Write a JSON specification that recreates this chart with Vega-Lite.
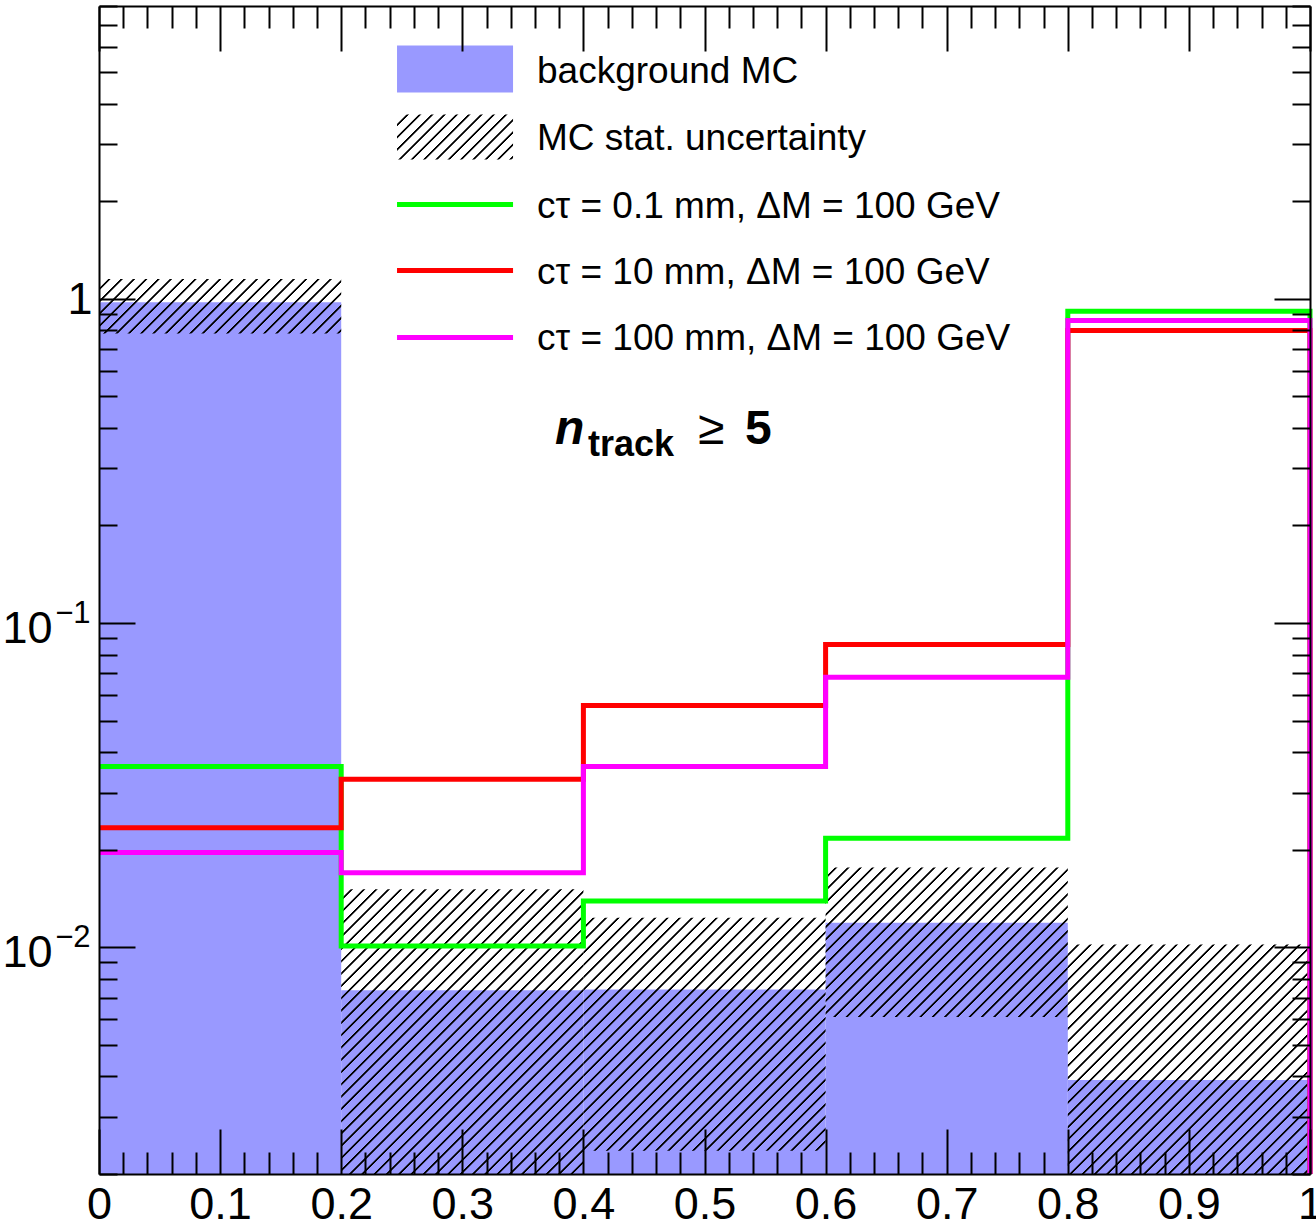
{
  "$schema": "https://vega.github.io/schema/vega-lite/v6.json",
  "width": 1211,
  "height": 1168,
  "autosize": {"type": "none"},
  "padding": {"left": 99, "top": 6, "right": 6, "bottom": 52},
  "background": "white",
  "config": {
    "view": {"stroke": null},
    "text": {"font": "Liberation Sans", "fontSize": 37, "align": "left", "baseline": "alphabetic", "color": "#000"}
  },
  "params": [
    {"name": "hs", "value": [
      {"offset":0.0145,"color":"transparent"},{"offset":0.016,"color":"#000"},{"offset":0.0185,"color":"#000"},{"offset":0.02,"color":"transparent"},
      {"offset":0.0345,"color":"transparent"},{"offset":0.036,"color":"#000"},{"offset":0.0385,"color":"#000"},{"offset":0.04,"color":"transparent"},
      {"offset":0.0545,"color":"transparent"},{"offset":0.056,"color":"#000"},{"offset":0.0585,"color":"#000"},{"offset":0.06,"color":"transparent"},
      {"offset":0.0745,"color":"transparent"},{"offset":0.076,"color":"#000"},{"offset":0.0785,"color":"#000"},{"offset":0.08,"color":"transparent"},
      {"offset":0.0945,"color":"transparent"},{"offset":0.096,"color":"#000"},{"offset":0.0985,"color":"#000"},{"offset":0.1,"color":"transparent"},
      {"offset":0.1145,"color":"transparent"},{"offset":0.116,"color":"#000"},{"offset":0.1185,"color":"#000"},{"offset":0.12,"color":"transparent"},
      {"offset":0.1345,"color":"transparent"},{"offset":0.136,"color":"#000"},{"offset":0.1385,"color":"#000"},{"offset":0.14,"color":"transparent"},
      {"offset":0.1545,"color":"transparent"},{"offset":0.156,"color":"#000"},{"offset":0.1585,"color":"#000"},{"offset":0.16,"color":"transparent"},
      {"offset":0.1745,"color":"transparent"},{"offset":0.176,"color":"#000"},{"offset":0.1785,"color":"#000"},{"offset":0.18,"color":"transparent"},
      {"offset":0.1945,"color":"transparent"},{"offset":0.196,"color":"#000"},{"offset":0.1985,"color":"#000"},{"offset":0.2,"color":"transparent"},
      {"offset":0.2145,"color":"transparent"},{"offset":0.216,"color":"#000"},{"offset":0.2185,"color":"#000"},{"offset":0.22,"color":"transparent"},
      {"offset":0.2345,"color":"transparent"},{"offset":0.236,"color":"#000"},{"offset":0.2385,"color":"#000"},{"offset":0.24,"color":"transparent"},
      {"offset":0.2545,"color":"transparent"},{"offset":0.256,"color":"#000"},{"offset":0.2585,"color":"#000"},{"offset":0.26,"color":"transparent"},
      {"offset":0.2745,"color":"transparent"},{"offset":0.276,"color":"#000"},{"offset":0.2785,"color":"#000"},{"offset":0.28,"color":"transparent"},
      {"offset":0.2945,"color":"transparent"},{"offset":0.296,"color":"#000"},{"offset":0.2985,"color":"#000"},{"offset":0.3,"color":"transparent"},
      {"offset":0.3145,"color":"transparent"},{"offset":0.316,"color":"#000"},{"offset":0.3185,"color":"#000"},{"offset":0.32,"color":"transparent"},
      {"offset":0.3345,"color":"transparent"},{"offset":0.336,"color":"#000"},{"offset":0.3385,"color":"#000"},{"offset":0.34,"color":"transparent"},
      {"offset":0.3545,"color":"transparent"},{"offset":0.356,"color":"#000"},{"offset":0.3585,"color":"#000"},{"offset":0.36,"color":"transparent"},
      {"offset":0.3745,"color":"transparent"},{"offset":0.376,"color":"#000"},{"offset":0.3785,"color":"#000"},{"offset":0.38,"color":"transparent"},
      {"offset":0.3945,"color":"transparent"},{"offset":0.396,"color":"#000"},{"offset":0.3985,"color":"#000"},{"offset":0.4,"color":"transparent"},
      {"offset":0.4145,"color":"transparent"},{"offset":0.416,"color":"#000"},{"offset":0.4185,"color":"#000"},{"offset":0.42,"color":"transparent"},
      {"offset":0.4345,"color":"transparent"},{"offset":0.436,"color":"#000"},{"offset":0.4385,"color":"#000"},{"offset":0.44,"color":"transparent"},
      {"offset":0.4545,"color":"transparent"},{"offset":0.456,"color":"#000"},{"offset":0.4585,"color":"#000"},{"offset":0.46,"color":"transparent"},
      {"offset":0.4745,"color":"transparent"},{"offset":0.476,"color":"#000"},{"offset":0.4785,"color":"#000"},{"offset":0.48,"color":"transparent"},
      {"offset":0.4945,"color":"transparent"},{"offset":0.496,"color":"#000"},{"offset":0.4985,"color":"#000"},{"offset":0.5,"color":"transparent"},
      {"offset":0.5145,"color":"transparent"},{"offset":0.516,"color":"#000"},{"offset":0.5185,"color":"#000"},{"offset":0.52,"color":"transparent"},
      {"offset":0.5345,"color":"transparent"},{"offset":0.536,"color":"#000"},{"offset":0.5385,"color":"#000"},{"offset":0.54,"color":"transparent"},
      {"offset":0.5545,"color":"transparent"},{"offset":0.556,"color":"#000"},{"offset":0.5585,"color":"#000"},{"offset":0.56,"color":"transparent"},
      {"offset":0.5745,"color":"transparent"},{"offset":0.576,"color":"#000"},{"offset":0.5785,"color":"#000"},{"offset":0.58,"color":"transparent"},
      {"offset":0.5945,"color":"transparent"},{"offset":0.596,"color":"#000"},{"offset":0.5985,"color":"#000"},{"offset":0.6,"color":"transparent"},
      {"offset":0.6145,"color":"transparent"},{"offset":0.616,"color":"#000"},{"offset":0.6185,"color":"#000"},{"offset":0.62,"color":"transparent"},
      {"offset":0.6345,"color":"transparent"},{"offset":0.636,"color":"#000"},{"offset":0.6385,"color":"#000"},{"offset":0.64,"color":"transparent"},
      {"offset":0.6545,"color":"transparent"},{"offset":0.656,"color":"#000"},{"offset":0.6585,"color":"#000"},{"offset":0.66,"color":"transparent"},
      {"offset":0.6745,"color":"transparent"},{"offset":0.676,"color":"#000"},{"offset":0.6785,"color":"#000"},{"offset":0.68,"color":"transparent"},
      {"offset":0.6945,"color":"transparent"},{"offset":0.696,"color":"#000"},{"offset":0.6985,"color":"#000"},{"offset":0.7,"color":"transparent"},
      {"offset":0.7145,"color":"transparent"},{"offset":0.716,"color":"#000"},{"offset":0.7185,"color":"#000"},{"offset":0.72,"color":"transparent"},
      {"offset":0.7345,"color":"transparent"},{"offset":0.736,"color":"#000"},{"offset":0.7385,"color":"#000"},{"offset":0.74,"color":"transparent"},
      {"offset":0.7545,"color":"transparent"},{"offset":0.756,"color":"#000"},{"offset":0.7585,"color":"#000"},{"offset":0.76,"color":"transparent"},
      {"offset":0.7745,"color":"transparent"},{"offset":0.776,"color":"#000"},{"offset":0.7785,"color":"#000"},{"offset":0.78,"color":"transparent"},
      {"offset":0.7945,"color":"transparent"},{"offset":0.796,"color":"#000"},{"offset":0.7985,"color":"#000"},{"offset":0.8,"color":"transparent"},
      {"offset":0.8145,"color":"transparent"},{"offset":0.816,"color":"#000"},{"offset":0.8185,"color":"#000"},{"offset":0.82,"color":"transparent"},
      {"offset":0.8345,"color":"transparent"},{"offset":0.836,"color":"#000"},{"offset":0.8385,"color":"#000"},{"offset":0.84,"color":"transparent"},
      {"offset":0.8545,"color":"transparent"},{"offset":0.856,"color":"#000"},{"offset":0.8585,"color":"#000"},{"offset":0.86,"color":"transparent"},
      {"offset":0.8745,"color":"transparent"},{"offset":0.876,"color":"#000"},{"offset":0.8785,"color":"#000"},{"offset":0.88,"color":"transparent"}
    ]}
  ],
  "datasets": {
    "bg": [
      {"x0": 0, "x1": 0.2, "v": 0.976},
      {"x0": 0.2, "x1": 0.4, "v": 0.00737},
      {"x0": 0.4, "x1": 0.6, "v": 0.00742},
      {"x0": 0.6, "x1": 0.8, "v": 0.0119},
      {"x0": 0.8, "x1": 1, "v": 0.0039}
    ],
    "unc": [
      {"x0": 0, "x1": 0.2, "lo": 0.782, "hi": 1.152},
      {"x0": 0.2, "x1": 0.4, "lo": 0.002, "hi": 0.0151},
      {"x0": 0.4, "x1": 0.6, "lo": 0.00236, "hi": 0.01235},
      {"x0": 0.6, "x1": 0.8, "lo": 0.0061, "hi": 0.01764},
      {"x0": 0.8, "x1": 1, "lo": 0.002, "hi": 0.0102}
    ],
    "sig": [
      {"s": "0.1 mm", "x": 0, "y": 0.0361, "o": 1},
      {"s": "0.1 mm", "x": 0.2, "y": 0.0101, "o": 2},
      {"s": "0.1 mm", "x": 0.4, "y": 0.0139, "o": 3},
      {"s": "0.1 mm", "x": 0.6, "y": 0.0217, "o": 4},
      {"s": "0.1 mm", "x": 0.8, "y": 0.916, "o": 5},
      {"s": "0.1 mm", "x": 1, "y": 0.916, "o": 6},
      {"s": "0.1 mm", "x": 1, "y": 0.002, "o": 7},
      {"s": "10 mm", "x": 0, "y": 0.0234, "o": 1},
      {"s": "10 mm", "x": 0.2, "y": 0.033, "o": 2},
      {"s": "10 mm", "x": 0.4, "y": 0.0557, "o": 3},
      {"s": "10 mm", "x": 0.6, "y": 0.0859, "o": 4},
      {"s": "10 mm", "x": 0.8, "y": 0.798, "o": 5},
      {"s": "10 mm", "x": 1, "y": 0.798, "o": 6},
      {"s": "10 mm", "x": 1, "y": 0.002, "o": 7},
      {"s": "100 mm", "x": 0, "y": 0.0196, "o": 1},
      {"s": "100 mm", "x": 0.2, "y": 0.017, "o": 2},
      {"s": "100 mm", "x": 0.4, "y": 0.0361, "o": 3},
      {"s": "100 mm", "x": 0.6, "y": 0.0681, "o": 4},
      {"s": "100 mm", "x": 0.8, "y": 0.857, "o": 5},
      {"s": "100 mm", "x": 1, "y": 0.857, "o": 6},
      {"s": "100 mm", "x": 1, "y": 0.002, "o": 7}
    ]
  },
  "resolve": {"axis": {"x": "independent", "y": "independent"}},
  "layer": [
    {
      "data": {"name": "bg"},
      "mark": {"type": "rect", "fill": "#9999ff"},
      "encoding": {
        "x": {"field": "x0", "type": "quantitative", "scale": {"domain": [0, 1], "nice": false, "zero": false},
          "axis": {"orient": "bottom", "values": [0,0.02,0.04,0.06,0.08,0.1,0.12,0.14,0.16,0.18,0.2,0.22,0.24,0.26,0.28,0.3,0.32,0.34,0.36,0.38,0.4,0.42,0.44,0.46,0.48,0.5,0.52,0.54,0.56,0.58,0.6,0.62,0.64,0.66,0.68,0.7,0.72,0.74,0.76,0.78,0.8,0.82,0.84,0.86,0.88,0.9,0.92,0.94,0.96,0.98,1],
            "tickSize": {"condition": {"test": "abs(datum.value*10-round(datum.value*10))<0.001", "value": -45}, "value": -22},
            "tickWidth": 2, "tickColor": "#000", "labels": false, "domain": true, "domainColor": "#000", "domainWidth": 2, "grid": false, "title": null, "zindex": 1}},
        "x2": {"field": "x1"},
        "y": {"field": "v", "type": "quantitative", "scale": {"type": "log", "domain": [0.002, 8], "nice": false},
          "axis": {"orient": "left", "values": [0.002,0.003,0.004,0.005,0.006,0.007,0.008,0.009,0.01,0.02,0.03,0.04,0.05,0.06,0.07,0.08,0.09,0.1,0.2,0.3,0.4,0.5,0.6,0.7,0.8,0.9,1,2,3,4,5,6,7,8],
            "tickSize": {"condition": {"test": "abs(log(datum.value)/LN10-round(log(datum.value)/LN10))<0.001", "value": -36}, "value": -18},
            "tickWidth": 2, "tickColor": "#000", "labels": false, "domain": true, "domainColor": "#000", "domainWidth": 2, "grid": false, "title": null, "zindex": 1}},
        "y2": {"datum": 0.002}
      }
    },
    {
      "data": {"name": "unc"},
      "mark": {"type": "rect", "fill": {"expr": "{gradient: 'linear', x1: 0, y1: 0, x2: (scale('x', datum.x1) - scale('x', datum.x0)) * 615 / (pow(scale('x', datum.x1) - scale('x', datum.x0), 2) + pow(scale('y', datum.lo) - scale('y', datum.hi), 2)), y2: (scale('y', datum.lo) - scale('y', datum.hi)) * 615 / (pow(scale('x', datum.x1) - scale('x', datum.x0), 2) + pow(scale('y', datum.lo) - scale('y', datum.hi), 2)), stops: hs}"}},
      "encoding": {
        "x": {"field": "x0", "type": "quantitative", "scale": {"domain": [0, 1], "nice": false, "zero": false},
          "axis": {"orient": "top", "values": [0,0.02,0.04,0.06,0.08,0.1,0.12,0.14,0.16,0.18,0.2,0.22,0.24,0.26,0.28,0.3,0.32,0.34,0.36,0.38,0.4,0.42,0.44,0.46,0.48,0.5,0.52,0.54,0.56,0.58,0.6,0.62,0.64,0.66,0.68,0.7,0.72,0.74,0.76,0.78,0.8,0.82,0.84,0.86,0.88,0.9,0.92,0.94,0.96,0.98,1],
            "tickSize": {"condition": {"test": "abs(datum.value*10-round(datum.value*10))<0.001", "value": -45}, "value": -22},
            "tickWidth": 2, "tickColor": "#000", "labels": false, "domain": true, "domainColor": "#000", "domainWidth": 2, "grid": false, "title": null, "zindex": 1}},
        "x2": {"field": "x1"},
        "y": {"field": "hi", "type": "quantitative", "scale": {"type": "log", "domain": [0.002, 8], "nice": false},
          "axis": {"orient": "right", "values": [0.002,0.003,0.004,0.005,0.006,0.007,0.008,0.009,0.01,0.02,0.03,0.04,0.05,0.06,0.07,0.08,0.09,0.1,0.2,0.3,0.4,0.5,0.6,0.7,0.8,0.9,1,2,3,4,5,6,7,8],
            "tickSize": {"condition": {"test": "abs(log(datum.value)/LN10-round(log(datum.value)/LN10))<0.001", "value": -36}, "value": -18},
            "tickWidth": 2, "tickColor": "#000", "labels": false, "domain": true, "domainColor": "#000", "domainWidth": 2, "grid": false, "title": null, "zindex": 1}},
        "y2": {"field": "lo"}
      }
    },
    {
      "data": {"name": "sig"},
      "mark": {"type": "line", "interpolate": "step-after", "strokeWidth": 5, "strokeJoin": "miter"},
      "encoding": {
        "x": {"field": "x", "type": "quantitative", "scale": {"domain": [0, 1], "nice": false, "zero": false},
          "axis": {"orient": "bottom", "values": [0,0.1,0.2,0.3,0.4,0.5,0.6,0.7,0.8,0.9,1], "format": "~g", "ticks": false, "domain": false, "grid": false, "labelFont": "Liberation Sans", "labelFontSize": 45, "labelColor": "#000", "labelPadding": 8, "labelOverlap": false, "labelFlush": false, "labelBound": false, "title": null, "zindex": 1}},
        "y": {"field": "y", "type": "quantitative", "scale": {"type": "log", "domain": [0.002, 8], "nice": false},
          "axis": {"orient": "left", "values": [1], "labelExpr": "'1'", "ticks": false, "domain": false, "grid": false, "labelFont": "Liberation Sans", "labelFontSize": 45, "labelColor": "#000", "labelPadding": 7, "labelOffset": 1, "labelOverlap": false, "labelFlush": false, "labelBound": false, "title": null, "zindex": 1}},
        "color": {"field": "s", "type": "nominal", "scale": {"domain": ["0.1 mm", "10 mm", "100 mm"], "range": ["#00ff00", "#ff0000", "#ff00ff"]}, "legend": null},
        "order": {"field": "o"}
      }
    },
    {
      "data": {"values": [{}]},
      "mark": {"type": "rect", "fill": "#9999ff"},
      "encoding": {
        "x": {"datum": 0.2461, "type": "quantitative", "scale": {"domain": [0, 1], "nice": false, "zero": false}, "axis": null},
        "x2": {"datum": 0.3419},
        "y": {"datum": 6.04, "type": "quantitative", "scale": {"type": "log", "domain": [0.002, 8], "nice": false},
          "axis": {"orient": "left", "values": [0.01, 0.1], "labelExpr": "'10'", "ticks": false, "domain": false, "grid": false, "labelFont": "Liberation Sans", "labelFontSize": 45, "labelColor": "#000", "labelPadding": 47, "labelOffset": 5, "labelOverlap": false, "labelFlush": false, "labelBound": false, "title": null, "zindex": 1}},
        "y2": {"datum": 4.33}
      }
    },
    {
      "data": {"values": [{}]},
      "mark": {"type": "rect", "fill": {"expr": "{gradient: 'linear', x1: 0, y1: 0, x2: 4.611, y2: 1.789, stops: hs}"}},
      "encoding": {
        "x": {"datum": 0.2461, "type": "quantitative", "scale": {"domain": [0, 1], "nice": false, "zero": false}, "axis": null},
        "x2": {"datum": 0.3419},
        "y": {"datum": 3.7, "type": "quantitative", "scale": {"type": "log", "domain": [0.002, 8], "nice": false},
          "axis": {"orient": "left", "values": [0.01, 0.1], "labelExpr": "datum.value > 0.05 ? '−1' : '−2'", "ticks": false, "domain": false, "grid": false, "labelFont": "Liberation Sans", "labelFontSize": 31, "labelColor": "#000", "labelPadding": 9, "labelOffset": -10, "labelOverlap": false, "labelFlush": false, "labelBound": false, "title": null, "zindex": 1}},
        "y2": {"datum": 2.69}
      }
    },
    {
      "data": {"values": [{}]},
      "mark": {"type": "rule", "stroke": "#00ff00", "strokeWidth": 5},
      "encoding": {
        "x": {"datum": 0.2461, "type": "quantitative", "scale": {"domain": [0, 1], "nice": false, "zero": false}, "axis": null},
        "x2": {"datum": 0.3419},
        "y": {"datum": 1.953, "type": "quantitative", "scale": {"type": "log", "domain": [0.002, 8], "nice": false}, "axis": null}
      }
    },
    {
      "data": {"values": [{}]},
      "mark": {"type": "rule", "stroke": "#ff0000", "strokeWidth": 5},
      "encoding": {
        "x": {"datum": 0.2461, "type": "quantitative", "scale": {"domain": [0, 1], "nice": false, "zero": false}, "axis": null},
        "x2": {"datum": 0.3419},
        "y": {"datum": 1.223, "type": "quantitative", "scale": {"type": "log", "domain": [0.002, 8], "nice": false}, "axis": null}
      }
    },
    {
      "data": {"values": [{}]},
      "mark": {"type": "rule", "stroke": "#ff00ff", "strokeWidth": 5},
      "encoding": {
        "x": {"datum": 0.2461, "type": "quantitative", "scale": {"domain": [0, 1], "nice": false, "zero": false}, "axis": null},
        "x2": {"datum": 0.3419},
        "y": {"datum": 0.76, "type": "quantitative", "scale": {"type": "log", "domain": [0.002, 8], "nice": false}, "axis": null}
      }
    },
    {
      "data": {"values": [{}]},
      "mark": {"type": "text", "text": "background MC"},
      "encoding": {
        "x": {"datum": 0.3617, "type": "quantitative", "scale": {"domain": [0, 1], "nice": false, "zero": false}, "axis": null},
        "y": {"datum": 4.645, "type": "quantitative", "scale": {"type": "log", "domain": [0.002, 8], "nice": false}, "axis": null}
      }
    },
    {
      "data": {"values": [{}]},
      "mark": {"type": "text", "text": "MC stat. uncertainty"},
      "encoding": {
        "x": {"datum": 0.3617, "type": "quantitative", "scale": {"domain": [0, 1], "nice": false, "zero": false}, "axis": null},
        "y": {"datum": 2.886, "type": "quantitative", "scale": {"type": "log", "domain": [0.002, 8], "nice": false}, "axis": null}
      }
    },
    {
      "data": {"values": [{}]},
      "mark": {"type": "text", "text": "cτ = 0.1 mm, ΔM = 100 GeV"},
      "encoding": {
        "x": {"datum": 0.3617, "type": "quantitative", "scale": {"domain": [0, 1], "nice": false, "zero": false}, "axis": null},
        "y": {"datum": 1.781, "type": "quantitative", "scale": {"type": "log", "domain": [0.002, 8], "nice": false}, "axis": null}
      }
    },
    {
      "data": {"values": [{}]},
      "mark": {"type": "text", "text": "cτ = 10 mm, ΔM = 100 GeV"},
      "encoding": {
        "x": {"datum": 0.3617, "type": "quantitative", "scale": {"domain": [0, 1], "nice": false, "zero": false}, "axis": null},
        "y": {"datum": 1.115, "type": "quantitative", "scale": {"type": "log", "domain": [0.002, 8], "nice": false}, "axis": null}
      }
    },
    {
      "data": {"values": [{}]},
      "mark": {"type": "text", "text": "cτ = 100 mm, ΔM = 100 GeV"},
      "encoding": {
        "x": {"datum": 0.3617, "type": "quantitative", "scale": {"domain": [0, 1], "nice": false, "zero": false}, "axis": null},
        "y": {"datum": 0.6929, "type": "quantitative", "scale": {"type": "log", "domain": [0.002, 8], "nice": false}, "axis": null}
      }
    },
    {
      "data": {"values": [{}]},
      "mark": {"type": "text", "text": "n", "fontSize": 48, "fontWeight": "bold", "fontStyle": "italic"},
      "encoding": {
        "x": {"datum": 0.3766, "type": "quantitative", "scale": {"domain": [0, 1], "nice": false, "zero": false}, "axis": null},
        "y": {"datum": 0.3555, "type": "quantitative", "scale": {"type": "log", "domain": [0.002, 8], "nice": false}, "axis": null}
      }
    },
    {
      "data": {"values": [{}]},
      "mark": {"type": "text", "text": "track", "fontSize": 36, "fontWeight": "bold"},
      "encoding": {
        "x": {"datum": 0.4038, "type": "quantitative", "scale": {"domain": [0, 1], "nice": false, "zero": false}, "axis": null},
        "y": {"datum": 0.3265, "type": "quantitative", "scale": {"type": "log", "domain": [0.002, 8], "nice": false}, "axis": null}
      }
    },
    {
      "data": {"values": [{}]},
      "mark": {"type": "text", "text": "≥", "fontSize": 48},
      "encoding": {
        "x": {"datum": 0.4946, "type": "quantitative", "scale": {"domain": [0, 1], "nice": false, "zero": false}, "axis": null},
        "y": {"datum": 0.3555, "type": "quantitative", "scale": {"type": "log", "domain": [0.002, 8], "nice": false}, "axis": null}
      }
    },
    {
      "data": {"values": [{}]},
      "mark": {"type": "text", "text": "5", "fontSize": 48, "fontWeight": "bold"},
      "encoding": {
        "x": {"datum": 0.5334, "type": "quantitative", "scale": {"domain": [0, 1], "nice": false, "zero": false}, "axis": null},
        "y": {"datum": 0.3555, "type": "quantitative", "scale": {"type": "log", "domain": [0.002, 8], "nice": false}, "axis": null}
      }
    }
  ]
}
